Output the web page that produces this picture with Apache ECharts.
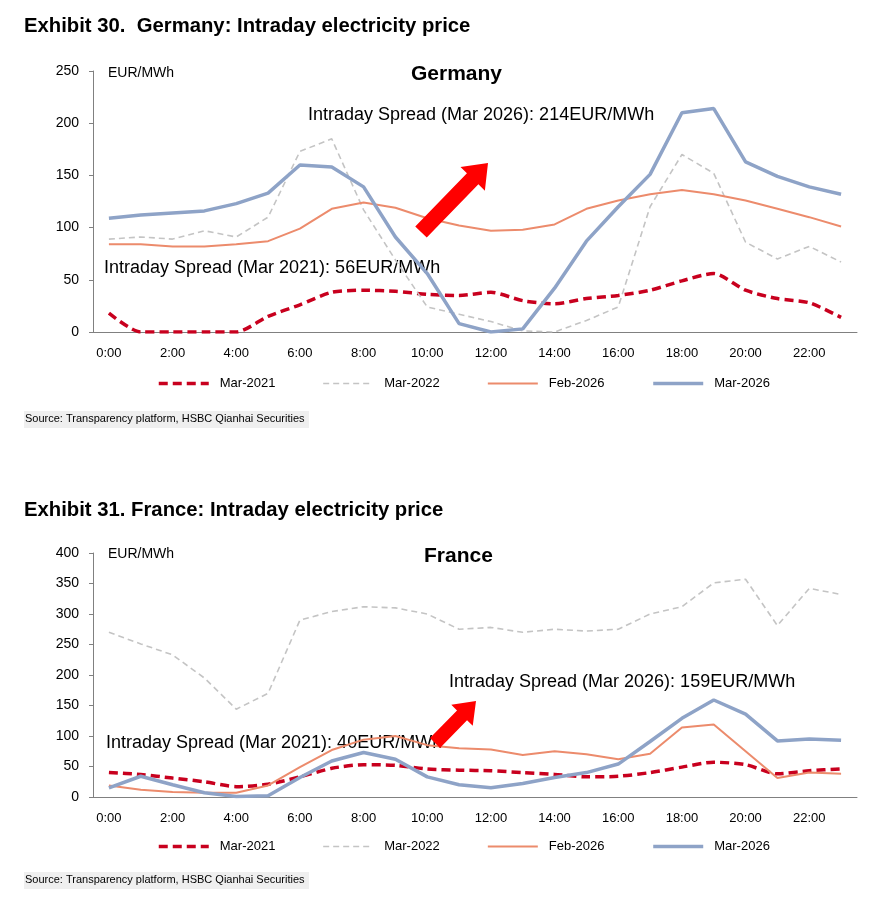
<!DOCTYPE html>
<html>
<head>
<meta charset="utf-8">
<script src="https://cdn.jsdelivr.net/npm/echarts@6/dist/echarts.min.js"></script>
<style>
  html, body { margin: 0; padding: 0; background: #fff; }
  #main { width: 894px; height: 908px; }
</style>
</head>
<body>
<div id="main"></div>
<script>
// hours of the day (x categories)
const hours = ['0:00','1:00','2:00','3:00','4:00','5:00','6:00','7:00','8:00','9:00','10:00','11:00',
  '12:00','13:00','14:00','15:00','16:00','17:00','18:00','19:00','20:00','21:00','22:00','23:00'];
const seriesNames = ['Mar-2021', 'Mar-2022', 'Feb-2026', 'Mar-2026'];

// Germany, EUR/MWh
const deMar2021 = [18,0,0,0,0,15,26,38,40,39,36,35,38,30,27,32,35,40,49,56,40,32,28,14];
const deMar2022 = [89,91,89,97,91,110,173,185,117,69,24,17,10,1,0,11,24,120,170,152,86,70,82,67];
const deFeb2026 = [84,84,82,82,84,87,99,118,124,119,109,102,97,98,103,118,126,132,136,132,126,118,110,101];
const deMar2026 = [109,112,114,116,123,133,160,158,139,91,56,8,0,3,42,87,120,151,210,214,163,149,139,132];

// France, EUR/MWh
const frMar2021 = [40,37,31,25,17,21,33,47,53,52,46,44,43,40,37,33,34,40,49,57,53,38,43,46];
const frMar2022 = [270,251,233,195,144,170,290,304,312,310,300,275,278,270,275,272,275,300,312,351,357,281,342,332];
const frFeb2026 = [19,12,8,7,7,19,49,77,94,100,85,80,78,69,75,70,62,71,114,119,75,31,40,38];
const frMar2026 = [15,34,20,7,1,2,32,59,73,62,33,20,15,22,32,40,54,91,129,159,136,92,95,93];

const font = 'Liberation Sans, Arial, sans-serif';

let myChart = echarts.init(document.getElementById('main'));

// line looks for the four series
const styles = [
  { color: '#c8001e', width: 3.5, type: [9, 5], smooth: 0.25 },
  { color: '#c4c4c4', width: 1.6, type: [6, 4], smooth: false },
  { color: '#ec8b6c', width: 2, type: 'solid', smooth: false },
  { color: '#8ea3c7', width: 3.5, type: 'solid', smooth: false }
];

function makeSeries(data, idx, s) {
  return {
    name: seriesNames[s],
    type: 'line',
    data: data,
    xAxisIndex: idx,
    yAxisIndex: idx,
    symbol: 'none',
    smooth: styles[s].smooth,
    color: styles[s].color,
    lineStyle: { color: styles[s].color, width: styles[s].width, type: styles[s].type },
    z: 2 + s
  };
}

function xAxis(idx) {
  return {
    type: 'category',
    gridIndex: idx,
    data: hours,
    boundaryGap: true,
    axisLine: { lineStyle: { color: '#808080', width: 1 } },
    axisTick: { interval: 0, length: 4, lineStyle: { color: '#808080' } },
    axisLabel: { interval: 1, color: '#000', fontFamily: font, fontSize: 13, margin: 15 }
  };
}

function yAxis(idx, max) {
  return {
    type: 'value',
    gridIndex: idx,
    min: 0,
    max: max,
    interval: 50,
    splitLine: { show: false },
    axisLine: { show: true, lineStyle: { color: '#808080', width: 1 } },
    axisTick: { show: true, length: 4, lineStyle: { color: '#808080' } },
    axisLabel: { color: '#000', fontFamily: font, fontSize: 14, margin: 14 }
  };
}

function legend(top) {
  return {
    data: seriesNames.map((n, i) => ({
      name: n,
      lineStyle: { width: styles[i].width, type: styles[i].type, color: styles[i].color }
    })),
    left: 152,
    top: top,
    itemWidth: 50,
    itemHeight: 14,
    itemGap: 47,
    selectedMode: false,
    itemStyle: { opacity: 0 },
    textStyle: { color: '#000', fontFamily: font, fontSize: 13, padding: [0, 0, 0, 6] }
  };
}

function text(x, y, str, size, bold, align) {
  return {
    type: 'text', left: x, top: y,
    style: { text: str, fill: '#000', font: (bold ? 'bold ' : '') + size + 'px ' + font, textAlign: align || 'left' }
  };
}

// thick red arrow from tail (x0,y0) to tip (x1,y1)
function arrow(x0, y0, x1, y1, half, headHalf, headLen) {
  const dx = x1 - x0, dy = y1 - y0, len = Math.sqrt(dx * dx + dy * dy);
  const ux = dx / len, uy = dy / len, nx = -uy, ny = ux;
  const bx = x1 - ux * headLen, by = y1 - uy * headLen;
  const pts = [
    [x0 + nx * half, y0 + ny * half],
    [bx + nx * half, by + ny * half],
    [bx + nx * headHalf, by + ny * headHalf],
    [x1, y1],
    [bx - nx * headHalf, by - ny * headHalf],
    [bx - nx * half, by - ny * half],
    [x0 - nx * half, y0 - ny * half]
  ];
  return { type: 'polygon', shape: { points: pts }, style: { fill: '#ff0000' }, z: 10 };
}

function sourceNote(y) {
  return {
    type: 'group', left: 24, top: y,
    children: [
      { type: 'rect', shape: { x: 0, y: 0, width: 285, height: 17 }, style: { fill: '#efefef' } },
      { type: 'text', x: 1, y: 2, style: { text: 'Source: Transparency platform, HSBC Qianhai Securities', fill: '#000', font: '11px ' + font } }
    ]
  };
}

let options = {
  animation: false,
  backgroundColor: '#fff',
  grid: [
    { left: 93, right: 37, top: 71, height: 261 },
    { left: 93, right: 37, top: 553, height: 244 }
  ],
  xAxis: [xAxis(0), xAxis(1)],
  yAxis: [yAxis(0, 250), yAxis(1, 400)],
  legend: [legend(372), legend(835)],
  series: [
    makeSeries(deMar2021, 0, 0), makeSeries(deMar2022, 0, 1), makeSeries(deFeb2026, 0, 2), makeSeries(deMar2026, 0, 3),
    makeSeries(frMar2021, 1, 0), makeSeries(frMar2022, 1, 1), makeSeries(frFeb2026, 1, 2), makeSeries(frMar2026, 1, 3)
  ],
  graphic: [
    text(24, 16, 'Exhibit 30.  Germany: Intraday electricity price', 20.3, true),
    text(108, 66, 'EUR/MWh', 14, false),
    text(411, 64, 'Germany', 21, true),
    text(308, 106, 'Intraday Spread (Mar 2026): 214EUR/MWh', 18, false),
    text(104, 259, 'Intraday Spread (Mar 2021): 56EUR/MWh', 18, false),
    arrow(421, 232, 488, 163, 8, 17, 22),
    sourceNote(411),

    text(24, 500, 'Exhibit 31. France: Intraday electricity price', 20.3, true),
    text(108, 547, 'EUR/MWh', 14, false),
    text(424, 546, 'France', 21, true),
    text(449, 673, 'Intraday Spread (Mar 2026): 159EUR/MWh', 18, false),
    text(106, 734, 'Intraday Spread (Mar 2021): 40EUR/MWh', 18, false),
    arrow(435, 743, 476, 701, 7, 15, 20),
    sourceNote(872)
  ]
};

myChart.setOption(options);
</script>
</body>
</html>
